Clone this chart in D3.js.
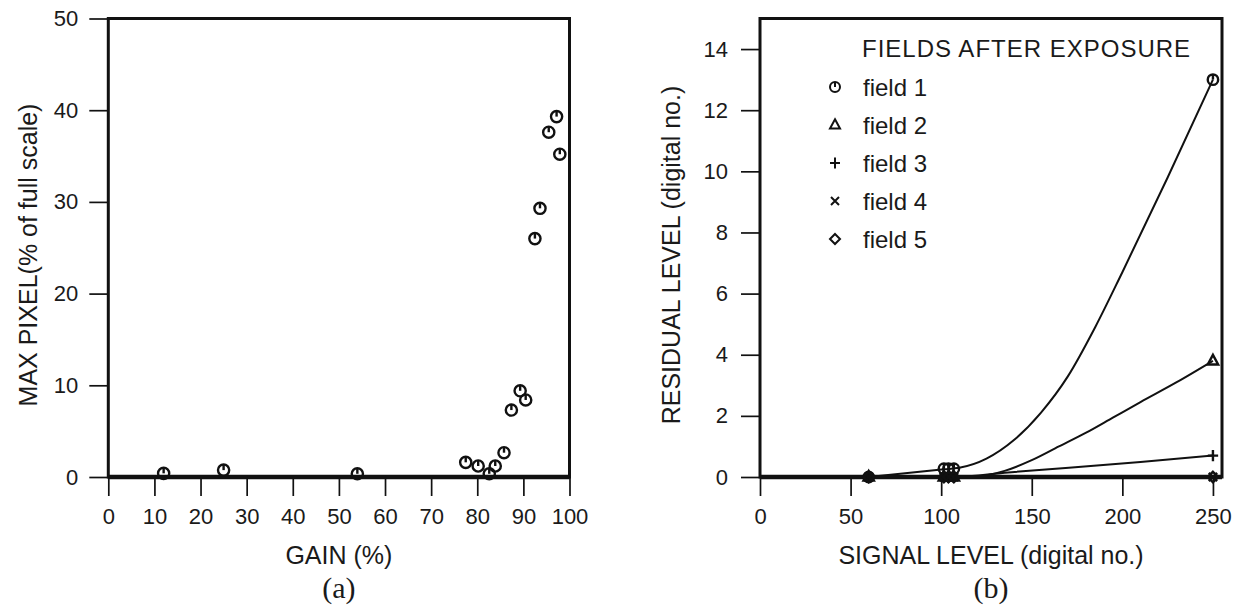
<!DOCTYPE html>
<html>
<head>
<meta charset="utf-8">
<script src="https://cdn.jsdelivr.net/npm/d3@7"></script>
<style>
  body { margin: 0; background: #fff; }
  text { font-family: "Liberation Sans", Arial, sans-serif; fill: #1a1a1a; }
</style>
</head>
<body>
<svg id="chart" width="1241" height="605"></svg>
<script>
// ---- panel (a) : max pixel vs gain
const gain     = [12, 25, 54, 77.5, 80.2, 82.6, 83.9, 85.8, 87.4, 89.3, 90.5, 92.5, 93.6, 95.5, 97.2, 97.9];
const maxPixel = [0.4, 0.75, 0.35, 1.6, 1.2, 0.35, 1.2, 2.65, 7.3, 9.4, 8.4, 26.0, 29.3, 37.6, 39.3, 35.2];
const gainTicks  = [0, 10, 20, 30, 40, 50, 60, 70, 80, 90, 100];
const pixelTicks = [0, 10, 20, 30, 40, 50];

// ---- panel (b) : residual vs signal, measured points
const signalLevel = [60, 101.5, 104, 107, 250];
const field1 = [0, 0.27, 0.27, 0.27, 13.0];
const field2 = [0, 0, 0, 0, 3.8];
const field3 = [0, 0, 0, 0, 0.7];
const field4 = [0, 0, 0, 0, 0];
const field5 = [0, 0, 0, 0, 0];

// fitted curves
const fit1Signal = [60, 101.5, 110, 125, 140, 155, 170, 185, 200, 225, 250];
const fit1Resid  = [0, 0.25, 0.3, 0.6, 1.2, 2.1, 3.3, 4.9, 6.7, 9.8, 13.0];
const fit2Signal = [60, 107, 120, 135, 150, 165, 180, 195, 210, 230, 250];
const fit2Resid  = [0, 0, 0.02, 0.2, 0.55, 1.0, 1.45, 1.95, 2.45, 3.1, 3.8];
const fit3Signal = [60, 107, 137, 210, 250];
const fit3Resid  = [0, 0, 0.15, 0.49, 0.7];
const fit45Signal = [60, 250];
const fit45Resid  = [0, 0];

const signalTicks = [0, 50, 100, 150, 200, 250];
const residTicks  = [0, 2, 4, 6, 8, 10, 12, 14];
const fieldNames  = ["field 1", "field 2", "field 3", "field 4", "field 5"];
const fieldShapes = ["circle", "triangle", "plus", "times", "diamond"];

const svg = d3.select("#chart");

// draw one marker shape
function marker(g, shape, cx, cy, r, sw) {
  const m = g.append("g").attr("fill", "none").attr("stroke", "#111").attr("stroke-width", sw);
  if (shape === "circle") {
    m.append("circle").attr("cx", cx).attr("cy", cy).attr("r", r);
    m.append("line").attr("x1", cx).attr("x2", cx).attr("y1", cy - r).attr("y2", cy);
  } else if (shape === "triangle") {
    m.append("path").attr("d", `M${cx},${cy - r * 1.15}L${cx + r},${cy + r * 0.7}L${cx - r},${cy + r * 0.7}Z`);
  } else if (shape === "plus") {
    m.append("path").attr("d", `M${cx - r},${cy}H${cx + r}M${cx},${cy - r * 1.1}V${cy + r * 1.1}`);
  } else if (shape === "times") {
    m.append("path").attr("d", `M${cx - r * 0.8},${cy - r * 0.8}L${cx + r * 0.8},${cy + r * 0.8}M${cx + r * 0.8},${cy - r * 0.8}L${cx - r * 0.8},${cy + r * 0.8}`);
  } else {
    m.append("path").attr("d", `M${cx},${cy - r}L${cx + r},${cy}L${cx},${cy + r}L${cx - r},${cy}Z`);
  }
}

function styleAxis(g) {
  g.select(".domain").remove();
  g.selectAll(".tick line").attr("stroke", "#111").attr("stroke-width", 1.7);
  g.selectAll(".tick text").style("font-size", "22px").attr("fill", "#1a1a1a");
}

function frame(g, x0, x1, y0, y1) {
  g.append("rect").attr("x", x0).attr("y", y1).attr("width", x1 - x0).attr("height", y0 - y1)
    .attr("fill", "none").attr("stroke", "#111").attr("stroke-width", 3);
  g.append("line").attr("x1", x0).attr("x2", x1).attr("y1", y0).attr("y2", y0)
    .attr("stroke", "#111").attr("stroke-width", 4.5);
}

// ================= panel (a)
const xA = d3.scaleLinear().domain([0, 100]).range([108.3, 569.5]);
const yA = d3.scaleLinear().domain([0, 50]).range([477, 18.5]);
const pA = svg.append("g");

pA.append("g").attr("transform", `translate(0,${yA(0)})`)
  .call(d3.axisBottom(xA).tickValues(gainTicks).tickSize(19).tickPadding(12))
  .call(styleAxis);
pA.append("g").attr("transform", `translate(${xA(0)},0)`)
  .call(d3.axisLeft(yA).tickValues(pixelTicks).tickSize(19).tickPadding(11).tickFormat(d3.format("d")))
  .call(styleAxis);
frame(pA, xA(0), xA(100), yA(0), yA(50));

gain.forEach((g, i) => marker(pA, "circle", xA(g), yA(maxPixel[i]), 5.6, 2.4));

pA.append("text").attr("x", (xA(0) + xA(100)) / 2).attr("y", 564)
  .attr("text-anchor", "middle").style("font-size", "25px").text("GAIN (%)");
pA.append("text").attr("transform", "translate(37,255) rotate(-90)")
  .attr("text-anchor", "middle").style("font-size", "25px").text("MAX PIXEL(% of full scale)");
pA.append("text").attr("x", (xA(0) + xA(100)) / 2).attr("y", 598)
  .attr("text-anchor", "middle").style("font-family", "'Liberation Serif', 'DejaVu Serif', serif")
  .style("font-size", "30px").text("(a)");

// ================= panel (b)
const xB = d3.scaleLinear().domain([0, 255]).range([760, 1222]);
const yB = d3.scaleLinear().domain([0, 15]).range([477, 18.5]);
const pB = svg.append("g");

pB.append("g").attr("transform", `translate(0,${yB(0)})`)
  .call(d3.axisBottom(xB).tickValues(signalTicks).tickSize(19).tickPadding(12))
  .call(styleAxis);
pB.append("g").attr("transform", `translate(${xB(0)},0)`)
  .call(d3.axisLeft(yB).tickValues(residTicks).tickSize(19).tickPadding(13))
  .call(styleAxis);

const line = d3.line().x(d => xB(d[0])).y(d => yB(d[1])).curve(d3.curveMonotoneX);
const fits = [
  [fit1Signal, fit1Resid], [fit2Signal, fit2Resid], [fit3Signal, fit3Resid],
  [fit45Signal, fit45Resid], [fit45Signal, fit45Resid]
];
pB.selectAll("path.fit").data(fits).join("path").attr("class", "fit")
  .attr("d", f => line(f[0].map((s, i) => [s, f[1][i]])))
  .attr("fill", "none").attr("stroke", "#111").attr("stroke-width", 2);

frame(pB, xB(0), xB(255), yB(0), yB(15));

const fields = [field1, field2, field3, field4, field5];
fields.forEach((vals, k) => {
  signalLevel.forEach((s, i) => marker(pB, fieldShapes[k], xB(s), yB(vals[i]), 5.2, 2.4));
});

// legend
const lg = pB.append("g");
lg.append("text").attr("x", 862).attr("y", 57).style("font-size", "24px")
  .style("letter-spacing", "1px").text("FIELDS AFTER EXPOSURE");
fieldNames.forEach((n, k) => {
  const cy = 87 + k * 38;
  marker(lg, fieldShapes[k], 835, cy, 5, 2);
  lg.append("text").attr("x", 863).attr("y", cy + 8.5).style("font-size", "24px").text(n);
});

pB.append("text").attr("x", (xB(0) + xB(255)) / 2).attr("y", 564)
  .attr("text-anchor", "middle").style("font-size", "25px").text("SIGNAL LEVEL (digital no.)");
pB.append("text").attr("transform", "translate(680,255) rotate(-90)")
  .attr("text-anchor", "middle").style("font-size", "25px").text("RESIDUAL LEVEL (digital no.)");
pB.append("text").attr("x", (xB(0) + xB(255)) / 2).attr("y", 598)
  .attr("text-anchor", "middle").style("font-family", "'Liberation Serif', 'DejaVu Serif', serif")
  .style("font-size", "30px").text("(b)");
</script>
</body>
</html>
